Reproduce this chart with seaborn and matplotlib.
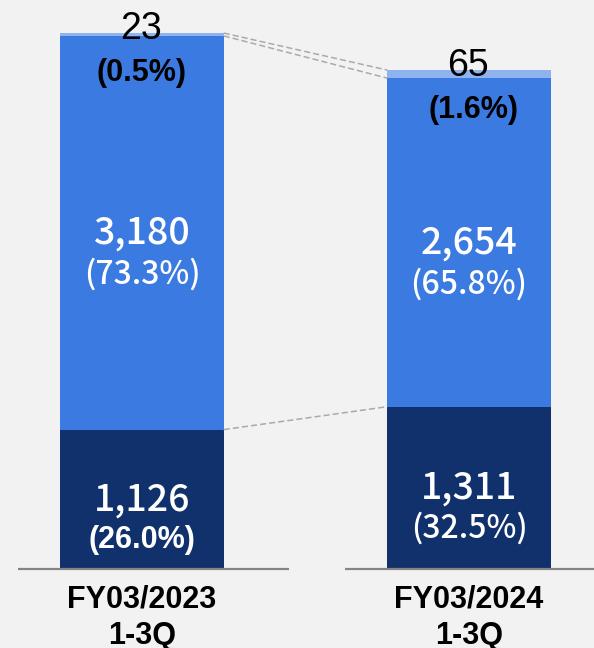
import matplotlib
matplotlib.use("Agg")
import matplotlib.pyplot as plt
import seaborn as sns
import pandas as pd

# dados do gráfico
periodos = ["FY03/2023\n1-3Q", "FY03/2024\n1-3Q"]
base = [1126, 1311]          # segmento inferior (azul escuro)
meio = [3180, 2654]          # segmento do meio (azul)
topo = [23, 65]              # segmento superior (azul claro)
pct_base = ["(26.0%)", "(32.5%)"]
pct_meio = ["(73.3%)", "(65.8%)"]
pct_topo = ["(0.5%)", "(1.6%)"]

cor_base = "#10316b"
cor_meio = "#3b7ae0"
cor_topo = "#8fb3ef"
fundo = "#f2f2f2"

df = pd.DataFrame({"periodo": periodos, "base": base, "meio": meio, "topo": topo})
df["ate_meio"] = df["base"] + df["meio"]
df["total"] = df["ate_meio"] + df["topo"]

sns.set_style("white")
fig = plt.figure(figsize=(5.94, 6.48), dpi=100, facecolor=fundo)
ax = fig.add_axes([0, 79 / 648, 1, 569 / 648])
ax.set_facecolor(fundo)

# barras empilhadas: desenha o acumulado de cima para baixo
largura = 0.5
for col, cor in [("total", cor_topo), ("ate_meio", cor_meio), ("base", cor_base)]:
    sns.barplot(data=df, x="periodo", y=col, color=cor, width=largura,
                saturation=1, linewidth=0, ax=ax)

ax.set_xlim(-0.434, 1.382)
ax.set_ylim(0, 4596)
sns.despine(ax=ax, left=True, bottom=True)
ax.set_yticks([])
ax.set_xlabel("")
ax.set_ylabel("")
ax.tick_params(axis="x", length=0, pad=11)
for lbl in ax.get_xticklabels():
    lbl.set_fontfamily("Liberation Sans")
    lbl.set_fontweight("bold")
    lbl.set_fontsize(22)
    lbl.set_color("black")
    lbl.set_linespacing(1.3)

# linhas de base
for i in range(len(periodos)):
    ax.hlines(0, i - 0.38, i + 0.45, color="#858585", lw=1.6, clip_on=False, zorder=3)

# linhas tracejadas de ligação
x0, x1 = 0 + largura / 2, 1 - largura / 2
for col in ["total", "ate_meio", "base"]:
    ax.plot([x0, x1], [df[col][0], df[col][1]], color="#aaaaaa", lw=1.1,
            ls=(0, (4, 2)))

cjk = ["Noto Sans CJK JP", "DejaVu Sans"]
for i in range(len(periodos)):
    # segmento inferior
    ym = base[i] / 2
    ax.annotate(f"{base[i]:,}", (i, ym), xytext=(0, 0), textcoords="offset points",
                ha="center", va="center", color="white", fontsize=27, family=cjk,
                fontweight="medium")
    ax.annotate(pct_base[i], (i, ym), xytext=(0, -29), textcoords="offset points",
                ha="center", va="center", color="white",
                fontsize=22 if i == 0 else 23,
                family=["Liberation Sans"] if i == 0 else cjk,
                fontweight="bold" if i == 0 else "medium")
    # segmento do meio
    ym = base[i] + meio[i] / 2
    ax.annotate(f"{meio[i]:,}", (i, ym), xytext=(0, 0), textcoords="offset points",
                ha="center", va="center", color="white", fontsize=27, family=cjk,
                fontweight="medium")
    ax.annotate(pct_meio[i], (i, ym), xytext=(0, -30), textcoords="offset points",
                ha="center", va="center", color="white", fontsize=23, family=cjk,
                fontweight="medium")
    # segmento superior
    yt = df["total"][i]
    ax.annotate(f"{topo[i]:,}", (i, yt), xytext=(-1, 3), textcoords="offset points",
                ha="center", va="center", color="black", fontsize=27,
                family="Liberation Sans")
    ax.annotate(pct_topo[i], (i, yt), xytext=(3 * i, -29), textcoords="offset points",
                ha="center", va="center", color="black", fontsize=22,
                family="Liberation Sans", fontweight="bold")

plt.savefig("out.png", dpi=100, facecolor=fundo)
